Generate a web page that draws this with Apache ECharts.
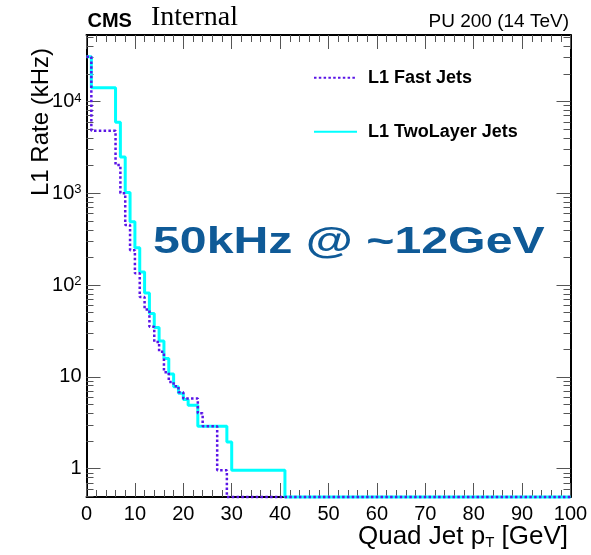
<!DOCTYPE html>
<html><head><meta charset="utf-8">
<script src="https://cdn.jsdelivr.net/npm/echarts@6/dist/echarts.min.js"></script>
<style>html,body{margin:0;padding:0;background:#fff}#c{width:591px;height:555px}</style>
</head><body><div id="c"></div>
<script>
// ---- data (1 GeV bins, index = lower bin edge in GeV) ----
const binLowEdges = [0,1,2,3,4,5,6,7,8,9,10,11,12,13,14,15,16,17,18,19,20,21,22,23,24,25,26,27,28,29,30,31,32,33,34,35,36,37,38,39,40,41];
const histUpperEdge = 100;
const fastJetRates = [30800,4800,4800,4800,4800,4800,2030,1000,450,240,134,74,54,35,24,18.7,11.2,8.8,7.9,6.8,5.8,5.8,5.8,4.0,2.9,2.9,2.9,0.96,0.96,0,0,0,0,0,0,0,0,0,0,0,0,0];
const twoLayerRates = [30800,14100,14100,14100,14100,14100,5930,2480,1020,490,255,139,82,49,34.5,24.5,15.8,10.7,7.8,6.6,5.65,4.9,4.9,2.9,2.9,2.9,2.9,2.9,2.9,1.95,0.96,0.96,0.96,0.96,0.96,0.96,0.96,0.96,0.96,0.96,0.96,0];
const seriesNames = ['L1 Fast Jets','L1 TwoLayer Jets'];
const yMajorTicks = [1,10,100,1000,10000];
const yMinorTicks = [0.5,0.6,0.7,0.8,0.9,2,3,4,5,6,7,8,9,20,30,40,50,60,70,80,90,200,300,400,500,600,700,800,900,2000,3000,4000,5000,6000,7000,8000,9000,20000,30000,40000,50000];
const xMin = 0, xMax = 100, xStep = 10;
const yMin = 0.49, yMax = 53000;

const FONT = '"Liberation Sans", Arial, Helvetica, sans-serif';
const chart = echarts.init(document.getElementById('c'), null, {renderer:'canvas'});

function toSteps(rates){
  const pts = binLowEdges.map((x,i)=>[x, rates[i] > 0 ? rates[i] : yMin]);
  const last = rates[rates.length-1] > 0 ? rates[rates.length-1] : yMin;
  pts.push([histUpperEdge, last]);
  return pts;
}
function yLabel(v){
  const e = Math.round(Math.log10(v));
  if (e === 0) return '1';
  if (e === 1) return '10';
  return '{b|10}{s|' + e + '}';
}
const tickColor = '#555';
const xBase = {type:'value', min:xMin, max:xMax, interval:xStep, splitLine:{show:false},
  axisLine:{show:true, onZero:false, lineStyle:{color:'#000', width:2}},
  axisTick:{show:true, inside:true, length:14, lineStyle:{color:tickColor, width:1}},
  minorTick:{show:true, splitNumber:5, length:7, lineStyle:{color:tickColor, width:1}}};
const yBase = {type:'log', logBase:10, min:yMin, max:yMax, splitLine:{show:false}};

chart.setOption({
  animation:false,
  backgroundColor:'#fff',
  grid:{left:86.5, right:20.5, top:35, bottom:58, outerBoundsMode:'none', containLabel:false},
  xAxis:[
    Object.assign({}, xBase, {position:'bottom',
      axisLabel:{show:true, color:'#000', fontFamily:FONT, fontSize:20, margin:7,
        showMinLabel:true, showMaxLabel:true}}),
    Object.assign({}, xBase, {position:'top', axisLabel:{show:false}})
  ],
  yAxis:[
    Object.assign({}, yBase, {position:'left',
      axisLine:{show:true, lineStyle:{color:'#000', width:2}},
      axisTick:{show:true, inside:true, length:14, customValues:yMajorTicks, lineStyle:{color:tickColor, width:1}},
      axisLabel:{show:true, customValues:yMajorTicks, formatter:yLabel, color:'#000', fontFamily:FONT, fontSize:20, margin:5,
        rich:{b:{fontFamily:FONT, fontSize:20, lineHeight:20, verticalAlign:'bottom', color:'#000'},
              s:{fontFamily:FONT, fontSize:13, lineHeight:13, verticalAlign:'top', padding:[0,0,12,0], color:'#000'}}}}),
    Object.assign({}, yBase, {position:'left',
      axisLine:{show:false},
      axisTick:{show:true, inside:true, length:7, customValues:yMinorTicks, lineStyle:{color:tickColor, width:1}},
      axisLabel:{show:false}}),
    Object.assign({}, yBase, {position:'right',
      axisLine:{show:true, lineStyle:{color:'#000', width:2}},
      axisTick:{show:true, inside:true, length:14, customValues:yMajorTicks, lineStyle:{color:tickColor, width:1}},
      axisLabel:{show:false}}),
    Object.assign({}, yBase, {position:'right',
      axisLine:{show:false},
      axisTick:{show:true, inside:true, length:7, customValues:yMinorTicks, lineStyle:{color:tickColor, width:1}},
      axisLabel:{show:false}})
  ],
  legend:{
    show:true, data:seriesNames, orient:'vertical', left:313, top:68.7, padding:0,
    itemWidth:43, itemHeight:18, itemGap:36,
    itemStyle:{opacity:0},
    textStyle:{fontFamily:FONT, fontWeight:'bold', fontSize:18, color:'#000', padding:[0,0,0,6]}
  },
  series:[
    {name:seriesNames[1], type:'line', step:'end', symbol:'none', clip:false, z:3,
     xAxisIndex:0, yAxisIndex:0, data:toSteps(twoLayerRates),
     lineStyle:{color:'#00ffff', width:3, type:'solid', cap:'butt'}, itemStyle:{color:'#00ffff'}},
    {name:seriesNames[0], type:'line', step:'end', symbol:'none', clip:false, z:4,
     xAxisIndex:0, yAxisIndex:0, data:toSteps(fastJetRates),
     lineStyle:{color:'#5a14e6', width:2.5, type:[2.5,2.3], cap:'butt'}, itemStyle:{color:'#5a14e6'}}
  ],
  graphic:[
    {type:'text', x:87.5, y:21.8, style:{text:'CMS', font:'bold 20px ' + FONT, fill:'#000', textAlign:'left', textVerticalAlign:'middle'}},
    {type:'text', x:151, y:17.5, style:{text:'Internal', font:'28px "Liberation Serif", "Times New Roman", serif', fill:'#000', textAlign:'left', textVerticalAlign:'middle'}},
    {type:'text', x:569, y:21.8, style:{text:'PU 200 (14 TeV)', font:'19px ' + FONT, fill:'#000', textAlign:'right', textVerticalAlign:'middle'}},
    {type:'text', x:153, y:243.5, scaleX:1.34, style:{text:'50kHz @ ~12GeV', font:'bold 36px ' + FONT, fill:'#0f5a97', textAlign:'left', textVerticalAlign:'middle'}},
    {type:'text', x:568, y:537, style:{text:'{a|Quad Jet p}{t|T}{a| [GeV]}', textAlign:'right', textVerticalAlign:'middle',
      rich:{a:{fontFamily:FONT, fontSize:26, lineHeight:26, verticalAlign:'bottom', fill:'#000', color:'#000'},
            t:{fontFamily:FONT, fontSize:15, lineHeight:15, verticalAlign:'bottom', padding:[6,0,0,0], fill:'#000', color:'#000'}}}},
    {type:'text', x:41, y:122, rotation:Math.PI/2, style:{text:'L1 Rate (kHz)', font:'24px ' + FONT, fill:'#000', textAlign:'center', textVerticalAlign:'middle'}}
  ]
});
</script></body></html>
